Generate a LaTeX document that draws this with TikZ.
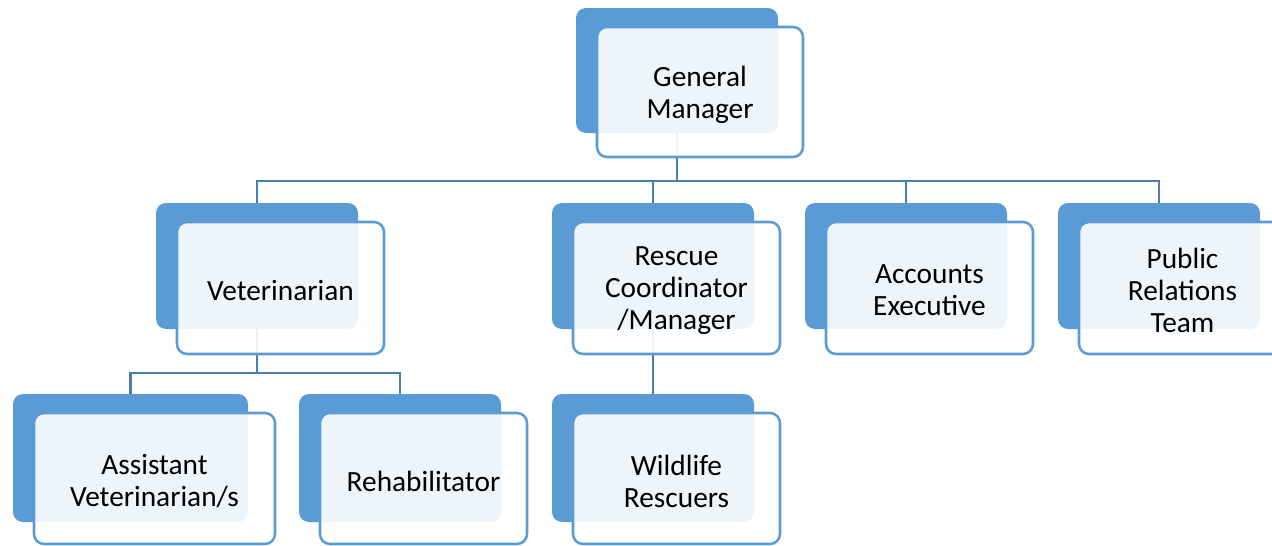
\documentclass[tikz,border=0pt]{standalone}
\usepackage{fontspec}
\setmainfont{Carlito}
\definecolor{backblue}{HTML}{5B9BD5}
\definecolor{edgeblue}{HTML}{5B9BD5}
\definecolor{linkblue}{HTML}{4A7EB5}
\pgfdeclarelayer{bg}
\pgfsetlayers{bg,main}
\tikzset{
  backbox/.style={fill=backblue, draw=none, rounded corners=7.5pt, inner sep=0pt},
  frontbox/.style={fill=white, fill opacity=0.9, draw=edgeblue, draw opacity=1, line width=1.9pt,
    rounded corners=7.5pt, inner sep=0pt},
  boxtext/.style={align=center, inner sep=0pt, font=\fontsize{22pt}{24pt}\selectfont},
  link/.style={draw=linkblue, line width=2pt},
}
% name, back x, back y, back w, back h, front w, front h, text
\newcommand\orgbox[8]{%
  \node[backbox, minimum width=#4*0.75pt, minimum height=#5*0.75pt] (#1b) at ({#2+#4/2},{#3+#5/2}) {};
  \node[frontbox, minimum width=#6*0.75pt, minimum height=#7*0.75pt] (#1f) at ({#2+21+#6/2},{#3+19+#7/2}) {};
  \node[boxtext] (#1t) at ([yshift=-2.5*0.75pt]#1f.center) {#8};
}
\begin{document}
\begin{tikzpicture}[x=0.75pt,y=-0.75pt]
\useasboundingbox (0,0) rectangle (1272,546);
\orgbox{gm}{576}{8}{202}{125}{206}{130}{General\\Manager}
\orgbox{vet}{156}{203}{202}{126}{207}{132}{Veterinarian}
\orgbox{rc}{552}{203}{202}{126}{207}{132}{Rescue\\Coordinator\\/Manager}
\orgbox{ac}{805}{203}{202}{126}{207}{132}{Accounts\\Executive}
\orgbox{pr}{1058}{203}{202}{126}{207}{132}{Public\\Relations\\Team}
\orgbox{as}{13}{394}{235}{128}{241}{131}{Assistant\\Veterinarian/s}
\orgbox{rh}{299}{394}{202}{128}{207}{131}{Rehabilitator}
\orgbox{wr}{552}{394}{202}{128}{207}{131}{Wildlife\\Rescuers}
\coordinate (j1) at (677,181);
\coordinate (j2) at (257,373);
\begin{pgfonlayer}{bg}
\draw[link] (gmb.south) -- (j1);
\draw[link] (vetb.north) |- (j1) -| (prb.north);
\draw[link] (j1 -| rcb.north) -- (rcb.north);
\draw[link] (j1 -| acb.north) -- (acb.north);
\draw[link] (vetb.south) -- (j2);
\draw[link] (asb.north) |- (j2) -| (rhb.north);
\draw[link] (rcb.south) -- (wrb.north);
\end{pgfonlayer}
\end{tikzpicture}
\end{document}
